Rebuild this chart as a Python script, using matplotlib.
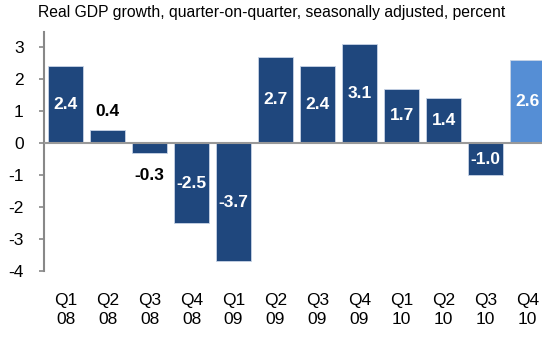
import matplotlib.pyplot as plt

plt.rcParams['font.family'] = ['Liberation Sans', 'DejaVu Sans']
plt.rcParams['axes.unicode_minus'] = False

quarters = ['Q1\n08', 'Q2\n08', 'Q3\n08', 'Q4\n08', 'Q1\n09', 'Q2\n09',
            'Q3\n09', 'Q4\n09', 'Q1\n10', 'Q2\n10', 'Q3\n10', 'Q4\n10']
growth = [2.4, 0.4, -0.3, -2.5, -3.7, 2.7, 2.4, 3.1, 1.7, 1.4, -1.0, 2.6]

navy = '#1f477d'
light = '#558ed5'
colors = [navy] * (len(growth) - 1) + [light]

fig = plt.figure(figsize=(5.42, 3.39), dpi=100)
ax = fig.add_axes([0.0812, 0.2006, 0.9188, 0.705])

x = range(len(growth))
ax.bar(x, growth, width=0.84, color=colors, edgecolor='#c8d4e6', linewidth=0.6, zorder=2)
ax.axhline(0, color='#999999', lw=1.5, zorder=3)

for i, v in enumerate(growth):
    if abs(v) < 0.6:
        # small bars get a black label just outside the bar
        y = 1.0 if v > 0 else -1.0
        ax.text(i, y, f'{v:.1f}', ha='center', va='center', fontsize=12.5,
                fontweight='bold', color='black', zorder=4)
    else:
        ax.text(i, v / 2, f'{v:.1f}', ha='center', va='center', fontsize=12.5,
                fontweight='bold', color='white', zorder=4)

ax.set_xlim(-0.512, 11.345)
ax.set_ylim(-4, 3.47)
ax.set_yticks(range(-4, 4))
ax.tick_params(axis='y', labelsize=12.5, length=3.6, color='#888888', width=1.2, pad=11)
ax.set_xticks(list(x))
ax.set_xticklabels(quarters, fontsize=12.5, linespacing=1.3)
ax.tick_params(axis='x', length=0, pad=16)

for s in ['top', 'right', 'bottom']:
    ax.spines[s].set_visible(False)
ax.spines['left'].set_color('#888888')
ax.spines['left'].set_linewidth(1.5)

fig.text(0.07, 0.963, 'Real GDP growth, quarter-on-quarter, seasonally adjusted, percent',
         fontsize=11.3, va='center', ha='left')

fig.savefig('out.png', dpi=100)
